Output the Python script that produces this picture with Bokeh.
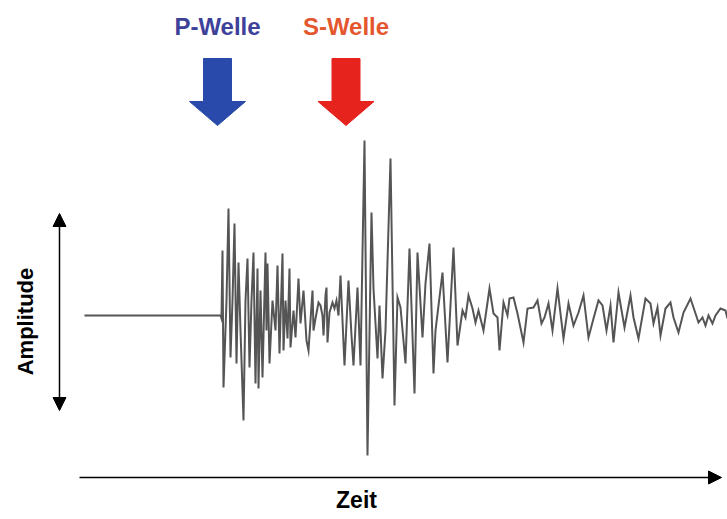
from math import pi
from bokeh.plotting import figure
from bokeh.models import Range1d, Arrow, NormalHead, ColumnDataSource
from bokeh.core.properties import value
from bokeh.embed import file_html
from bokeh.resources import INLINE

# Seismogram: time (arbitrary units) and amplitude (positive up)
zeit = [84, 220, 221, 222, 223, 226, 228, 230, 232, 234, 236, 238, 240, 243, 245, 247, 249, 251, 253,
        255, 257, 258, 260, 262, 265, 266, 267, 269, 272, 275, 277, 279, 282, 283, 285, 287, 289, 290,
        293, 295, 298, 300, 303, 306, 308, 310, 312, 313, 315, 318,
        320, 322, 323, 325, 326, 327, 329, 332, 334, 336, 338, 340, 344, 348, 351, 353, 357, 360, 364,
        367, 371, 373, 377, 379, 382, 385, 390, 394, 397, 400, 405, 409, 414, 417, 422, 425, 429, 433,
        435, 442, 447, 453, 457,
        462, 465, 468, 472, 475, 478, 483, 489, 493, 497, 499, 503, 507, 509, 513, 517, 523, 527, 533,
        537, 541, 544, 548, 552, 557, 563, 568, 573, 578, 583, 588, 593, 598, 602, 606, 610, 613, 618,
        624, 630, 633, 638, 645, 650, 653, 657, 660, 665, 670, 673, 678, 683, 690, 695, 698, 702, 705,
        708, 712, 715, 720, 725, 727]
amplitude = [0, 0, -3, 65, -72, 15, 107, -42, 15, 92, -48, 53, -15, -105, 15, 57, -52, 15, 63,
             -68, 47, -73, 25, -62, 63, -15, 52, -48, 15, -15, 50, -38, 62, -35, 15, -23, 47, -32,
             5, -22, 37, -8, 25, -25, -35, -5, 25, -15, -3, 13,
             10, 0, -20, 20, 28, -27, 3, 13, 7, 15, 0, 40, -50, 35, -20, -50, 28, -50, 175,
             -140, 103, 27, -43, 10, -63, -15, 157, -90, 18, 8, -48, 67, -78, 63, -22, 32, 72, -58,
             -15, 43, -47, 68, -30,
             5, -2, 20, 7, -7, 5, -15, 27, 2, -2, -35, 13, 0, 17, 18, 2, -27, 7, 8,
             15, -8, -2, 12, -15, 27, -23, 12, -10, 3, 20, -22, -3, 15, 10, -15, 10, -27, 23,
             -12, 20, -2, -23, 17, 12, -8, 8, -20, 7, 13, -2, -17, 3, 17, 2, -7, -2, -10,
             0, -8, 0, 7, 5, -3]

# Wave labels and arrival times
wellen = ["P-Welle", "S-Welle"]
ankunft = [217, 345.5]
wellen_farben = ["#3d4199", "#e4572e"]
pfeil_farben = ["#2a4aab", "#e6231c"]

p = figure(width=727, height=519, output_backend="svg", toolbar_location=None,
           x_range=Range1d(0, 727), y_range=Range1d(-204, 315), min_border=0)
p.xaxis.visible = False
p.yaxis.visible = False
p.grid.visible = False
p.outline_line_color = None
p.background_fill_color = "white"
p.border_fill_color = "white"

# Seismogram trace
p.line(zeit, amplitude, line_color="#555555", line_width=2, line_join="miter")

# Block arrows marking the arrivals
for t, col in zip(ankunft, pfeil_farben):
    xs = [t - 14, t + 14, t + 14, t + 28, t, t - 28, t - 14]
    ys = [257, 257, 214, 214, 190, 214, 214]
    p.patch(xs, ys, fill_color=col, line_color=col, line_width=1)

# Wave labels
src = ColumnDataSource(dict(x=ankunft, y=[289, 289], t=wellen, c=wellen_farben))
p.text(x="x", y="y", text="t", text_color="c", source=src, text_align="center",
       text_baseline="middle", text_font=value("Liberation Sans"),
       text_font_style="bold", text_font_size="24px")

# Amplitude double arrow
p.add_layout(Arrow(x_start=59, y_start=-95, x_end=59, y_end=102,
                   start=NormalHead(size=13, fill_color="black", line_color="black"),
                   end=NormalHead(size=13, fill_color="black", line_color="black"),
                   line_color="black", line_width=1.5))
# Time arrow
p.add_layout(Arrow(x_start=79, y_start=-162, x_end=721, y_end=-162,
                   end=NormalHead(size=13, fill_color="black", line_color="black"),
                   line_color="black", line_width=1.5))

p.text(x=[25], y=[-6], text=["Amplitude"], angle=pi / 2, text_align="center",
       text_baseline="middle", text_color="black", text_font=value("Liberation Sans"),
       text_font_style="bold", text_font_size="22px")
p.text(x=[356], y=[-184], text=["Zeit"], text_align="center",
       text_baseline="middle", text_color="black", text_font=value("Liberation Sans"),
       text_font_style="bold", text_font_size="23px")

open("out.html", "w").write(file_html(p, INLINE))
